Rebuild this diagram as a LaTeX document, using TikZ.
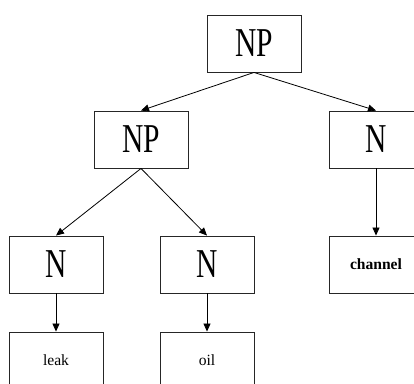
\documentclass[tikz,border=0pt]{standalone}
\usepackage{fontspec}
\setmainfont{Liberation Serif}
\usetikzlibrary{arrows.meta}
% condensed large serif for the category labels
\newcommand\catlabel[1]{\scalebox{0.72}[1]{\fontsize{41}{41}\selectfont #1}}
\begin{document}
\begin{tikzpicture}[x=1pt,y=-1pt,
  box/.style={draw=black!85,line width=0.9pt,minimum width=94pt,minimum height=57pt,inner sep=0pt},
  word/.style={font=\fontsize{15.6}{16}\selectfont},
  link/.style={-{Triangle[length=8pt,width=7pt]},line width=0.8pt}]
\useasboundingbox (0,0) rectangle (414,383);
\clip (0,0) rectangle (414,383);
\node[box] (np0) at (254,43.5) {\catlabel{NP}};
\node[box] (np1) at (141,139.5) {\catlabel{NP}};
\node[box] (n3) at (376,139.5) {\catlabel{N}};
\node[box] (n1) at (56,264.5) {\catlabel{N}};
\node[box] (n2) at (207,264.5) {\catlabel{N}};
\node[box,word] (w3) at (376,264.5) {\textbf{channel}};
\node[box,word] (w1) at (56,360.5) {leak};
\node[box,word] (w2) at (207,360.5) {oil};
\draw[link] (np0.south) -- (np1.north);
\draw[link] (np0.south) -- (n3.north);
\draw[link] (np1.south) -- (n1.north);
\draw[link] (np1.south) -- (n2.north);
\draw[link] (n3.south) -- (w3.north);
\draw[link] (n1.south) -- (w1.north);
\draw[link] (n2.south) -- (w2.north);
\end{tikzpicture}
\end{document}
